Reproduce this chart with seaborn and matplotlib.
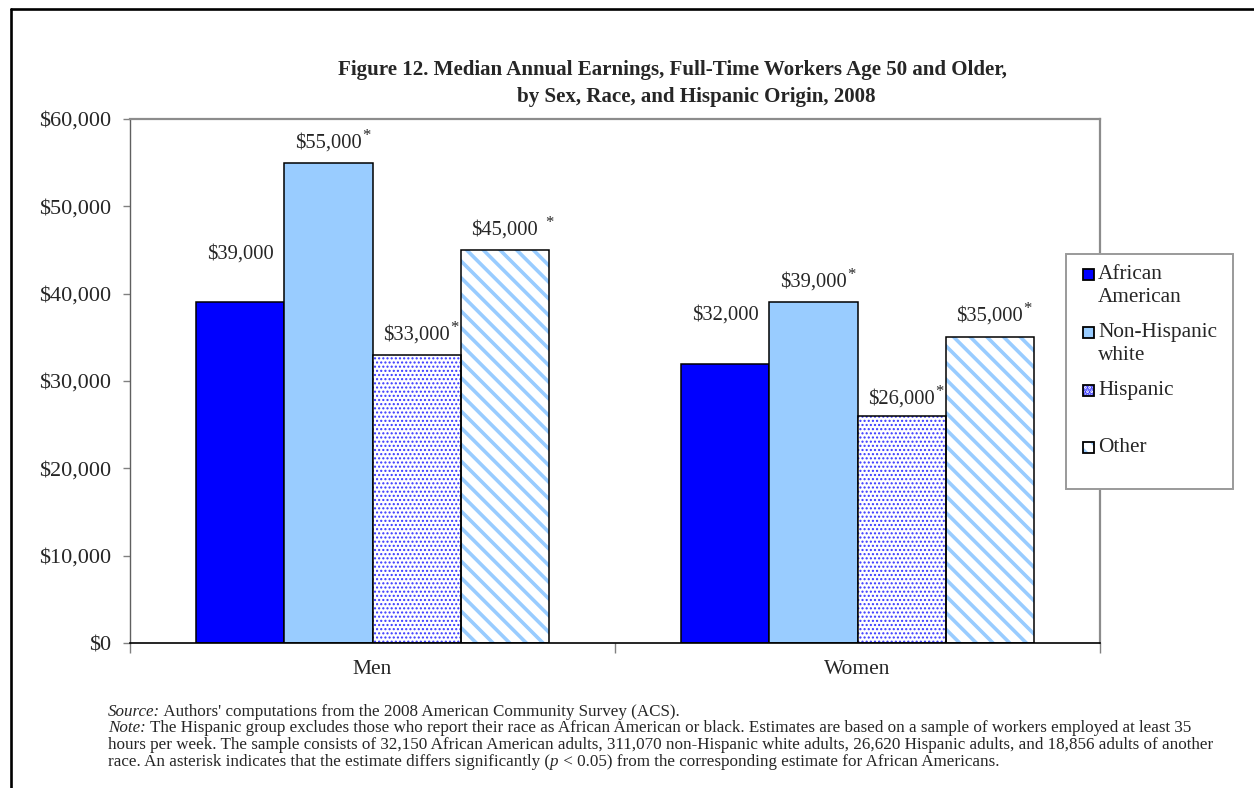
import matplotlib
matplotlib.use("Agg")
import matplotlib.pyplot as plt
import seaborn as sns
import pandas as pd
from matplotlib.patches import Rectangle
from matplotlib.lines import Line2D
from matplotlib.ticker import StrMethodFormatter, FixedLocator

# ---- data -------------------------------------------------------------
groups = ["Men", "Women"]
races = ["African American", "Non-Hispanic white", "Hispanic", "Other"]
men_earnings = [39000, 55000, 33000, 45000]
women_earnings = [32000, 39000, 26000, 35000]
men_significant = [False, True, True, True]
women_significant = [False, True, True, True]
y_ticks = [0, 10000, 20000, 30000, 40000, 50000, 60000]
legend_labels = ["African\nAmerican", "Non-Hispanic\nwhite", "Hispanic", "Other"]

title_lines = [
    "Figure 12. Median Annual Earnings, Full-Time Workers Age 50 and Older,",
    "by Sex, Race, and Hispanic Origin, 2008",
]

df = pd.DataFrame({
    "group": [g for g in groups for _ in races],
    "race": races * len(groups),
    "earnings": men_earnings + women_earnings,
})
significant = {"Men": men_significant, "Women": women_significant}

# ---- styling ----------------------------------------------------------
sns.set_style("white")
plt.rcParams["font.family"] = ["Liberation Serif", "DejaVu Serif"]
plt.rcParams["hatch.linewidth"] = 2.6

fill = {"African American": "#0000FF", "Non-Hispanic white": "#99CCFF",
        "Hispanic": "white", "Other": "white"}
hatches = {"Hispanic": "....", "Other": "\\\\"}
hatch_colors = {"Hispanic": "#3838FF", "Other": "#99CCFF"}
hatch_widths = {"Hispanic": 1.0, "Other": 2.6}
# vertical gap (px) between bar top and the centre of its value label
label_lift = {"Men": [48, 20, 20, 20], "Women": [48, 20, 17, 21]}

W, H, DPI = 1254, 788, 100
fig = plt.figure(figsize=(W / DPI, H / DPI), dpi=DPI)
fig.patch.set_facecolor("white")

left, right, top, bottom = 130, 1100, 119, 643
ax = fig.add_axes([left / W, 1 - bottom / H, (right - left) / W, (bottom - top) / H])

sns.barplot(data=df, x="group", y="earnings", hue="race", order=groups,
            hue_order=races, palette=fill, width=0.726, saturation=1,
            edgecolor="black", linewidth=1.1, legend=False, ax=ax, zorder=2)

for race, container in zip(races, ax.containers):
    for bar in container:
        if race in hatches:
            bar.set_hatch(hatches[race])
            bar.set_edgecolor(hatch_colors[race])
            bar.set_linewidth(0)
            if hasattr(bar, "set_hatch_linewidth"):
                bar.set_hatch_linewidth(hatch_widths[race])
            outline = Rectangle(bar.get_xy(), bar.get_width(), bar.get_height(),
                                fill=False, edgecolor="black", linewidth=1.1,
                                zorder=3)
            ax.add_patch(outline)

ax.set_ylim(0, 60000)
ax.set_xlim(-0.5, 1.5)
ax.yaxis.set_major_locator(FixedLocator(y_ticks))
ax.yaxis.set_major_formatter(StrMethodFormatter("${x:,.0f}"))
ax.set_xlabel("")
ax.set_ylabel("")

ax.tick_params(axis="y", which="major", direction="out", length=5, width=1,
               color="#808080", pad=8.6, labelsize=16, left=True)
ax.tick_params(axis="x", which="major", length=0, pad=12.5, labelsize=15.5)
ax.xaxis.set_minor_locator(FixedLocator([-0.5, 0.5, 1.5]))
ax.tick_params(axis="x", which="minor", direction="out", length=7, width=1,
               color="#808080", bottom=True)

for side in ("top", "right"):
    ax.spines[side].set_color("#8c8c8c")
    ax.spines[side].set_linewidth(1.6)
ax.spines["left"].set_color("#606060")
ax.spines["left"].set_linewidth(1.0)
ax.spines["bottom"].set_color("black")
ax.spines["bottom"].set_linewidth(1.2)

# ---- value labels -----------------------------------------------------
for r_i, (race, container) in enumerate(zip(races, ax.containers)):
    for g_i, bar in enumerate(container):
        group = groups[g_i]
        value = container.datavalues[g_i]
        cx = bar.get_x() + bar.get_width() / 2
        lift = label_lift[group][r_i] * 72 / DPI
        box = dict(facecolor="white", edgecolor="none", pad=1) if race == "Hispanic" else None
        lab = ax.annotate(f"${value:,.0f}", xy=(cx, value), xytext=(0, lift),
                          textcoords="offset points", ha="center", va="center",
                          fontsize=14.8, bbox=box, zorder=5)
        if significant[group][r_i]:
            gap = 5 if (race == "Other" and group == "Men") else 0.5
            ax.annotate("*", xy=(1, 1), xycoords=lab, xytext=(gap, 4),
                        textcoords="offset points", ha="left", va="top",
                        fontsize=12, zorder=5)

# ---- overlay in pixel coordinates: title, legend, notes, frame ---------
ov = fig.add_axes([0, 0, 1, 1], zorder=10)
ov.set_xlim(0, W)
ov.set_ylim(H, 0)
ov.axis("off")
ov.patch.set_alpha(0)

ov.add_line(Line2D([11, 11], [9, H + 5], color="black", linewidth=1.9))
ov.add_line(Line2D([11, W + 5], [9, 9], color="black", linewidth=1.9))

ov.text(672, 70, title_lines[0], ha="center", va="center", fontsize=15.1,
        fontweight="bold")
ov.text(696, 97, title_lines[1], ha="center", va="center", fontsize=15.1,
        fontweight="bold")

# legend
ov.add_patch(Rectangle((1066, 254), 167, 235, facecolor="white",
                       edgecolor="#9a9a9a", linewidth=1.4))
legend_y = [275, 333, 391, 448]
for race, lab, ly in zip(races, legend_labels, legend_y):
    sw = Rectangle((1083, ly - 6), 11, 11, facecolor=fill[race],
                   edgecolor=hatch_colors.get(race, "black"),
                   hatch=hatches.get(race), linewidth=0)
    ov.add_patch(sw)
    ov.add_patch(Rectangle((1083, ly - 6), 11, 11, fill=False,
                           edgecolor="black", linewidth=1.3))
    ov.text(1098, ly - 10, lab, ha="left", va="top", fontsize=15.3,
            linespacing=1.25)

# notes below the chart
fs = 12.25
x0 = 108
s1 = ov.text(x0, 712, "Source:", ha="left", va="center", fontsize=fs, style="italic")
ov.annotate(" Authors' computations from the 2008 American Community Survey (ACS).",
            xy=(1, 0), xycoords=s1, ha="left", va="bottom", fontsize=fs)
n1 = ov.text(x0, 728.5, "Note:", ha="left", va="center", fontsize=fs, style="italic")
ov.annotate(" The Hispanic group excludes those who report their race as African "
            "American or black. Estimates are based on a sample of workers employed at least 35",
            xy=(1, 0), xycoords=n1, ha="left", va="bottom", fontsize=fs)
ov.text(x0, 745, "hours per week. The sample consists of 32,150 African American adults, "
        "311,070 non-Hispanic white adults, 26,620 Hispanic adults, and 18,856 adults of another",
        ha="left", va="center", fontsize=fs)
r1 = ov.text(x0, 761.5, "race. An asterisk indicates that the estimate differs significantly (",
             ha="left", va="center", fontsize=fs)
r2 = ov.annotate("p", xy=(1, 0), xycoords=r1, ha="left", va="bottom",
                 fontsize=fs, style="italic")
ov.annotate(" < 0.05) from the corresponding estimate for African Americans.",
            xy=(1, 0), xycoords=r2, ha="left", va="bottom", fontsize=fs)

fig.savefig("out.png", dpi=DPI, facecolor="white")
